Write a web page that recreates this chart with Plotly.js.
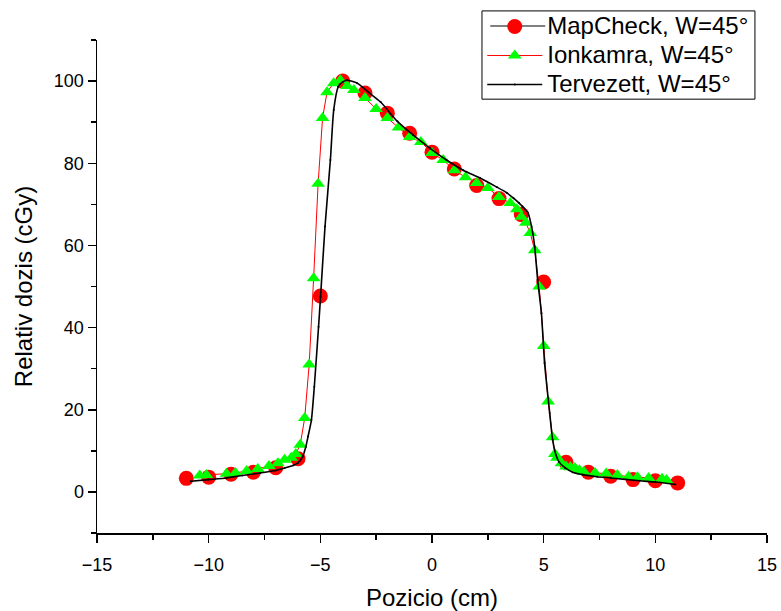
<!DOCTYPE html>
<html>
<head>
<meta charset="utf-8">
<script src="https://cdn.plot.ly/plotly-3.0.1.min.js"></script>
<style>html,body{margin:0;padding:0;background:#fff;}#chart{width:781px;height:611px;}</style>
</head>
<body>
<div id="chart"></div>
<script>
// MapCheck, W=45°
var mapX = [-11, -10, -9, -8, -7, -6, -5, -4, -3, -2, -1, 0, 1, 2, 3, 4, 5, 6, 7, 8, 9, 10, 11];
var mapY = [3.3, 3.6, 4.3, 4.8, 5.9, 8.1, 47.7, 100, 97.1, 92.2, 87.3, 82.7, 78.6, 74.6, 71.4, 67.5, 51.1, 7.2, 4.8, 3.8, 3.0, 2.7, 2.2];

// Ionkamra, W=45°
var ionX = [-10.4, -10.1, -9.2, -8.8, -8.3, -7.8, -7.3, -6.9, -6.6, -6.3, -6.1, -5.9, -5.7, -5.5, -5.3, -5.1, -4.9, -4.7, -4.4, -4.1, -3.8, -3.5, -3.0, -2.5, -2.0, -1.5, -1.0, -0.5, 0, 0.5, 1.0, 1.5, 2.0, 2.5, 3.0, 3.5, 3.8, 4.0, 4.2, 4.4, 4.6, 4.8, 5.0, 5.2, 5.4, 5.5, 5.6, 5.8, 6.0, 6.2, 6.4, 6.6, 6.8, 7.3, 7.8, 8.3, 8.8, 9.2, 9.7, 10.3, 10.5];
var ionY = [4.0, 4.1, 4.4, 4.6, 5.1, 5.6, 6.3, 7.0, 7.8, 8.3, 9.2, 11.5, 18, 31, 52, 75, 91, 97.3, 99.5, 100.2, 98.8, 97.8, 95.9, 93.2, 91, 88.7, 86.4, 85.2, 82.5, 80.8, 78.3, 76.6, 75.2, 74, 71.8, 70.3, 68.8, 67, 65.5, 63, 58.8, 50, 35.5, 22, 13.3, 9.2, 8.3, 7, 6.2, 6.0, 5.8, 5.3, 4.9, 4.6, 4.5, 4.1, 3.7, 3.6, 3.4, 3.2, 2.9];

// Tervezett, W=45°
var tervX = [-10.8, -10, -9.2, -8.5, -7.7, -7.0, -6.6, -6.2, -6.0, -5.8, -5.65, -5.55, -5.4, -5.27, -5.08, -4.99, -4.79, -4.55, -4.4, -4.2, -4.0, -3.8, -3.35, -2.85, -2.3, -1.55, -0.85, -0.1, 0.65, 1.4, 2.15, 2.9, 3.35, 3.65, 3.9, 4.05, 4.3, 4.46, 4.6, 4.73, 4.9, 5.04, 5.27, 5.4, 5.55, 5.7, 5.95, 6.3, 6.75, 7.4, 8.0, 9.3, 10.0, 10.9];
var tervY = [2.6, 3.0, 3.4, 4.0, 4.6, 5.2, 5.8, 6.5, 7.1, 8.5, 11, 13.5, 17.5, 25.6, 40.2, 47.5, 64.6, 80.8, 93, 98.6, 99.8, 100.2, 99.5, 97.3, 94.9, 90.2, 86.9, 83.7, 80.8, 78.3, 76.4, 74.2, 72.8, 71.5, 70.3, 69.5, 67.9, 64.5, 59.6, 51.6, 43.5, 31.4, 19.2, 12.7, 9.0, 7.2, 5.9, 4.8, 4.2, 3.7, 3.4, 2.7, 2.4, 1.8];

var xTitle = 'Pozicio (cm)';
var yTitle = 'Relativ dozis (cGy)';
var names = ['MapCheck, W=45°', 'Ionkamra, W=45°', 'Tervezett, W=45°'];

var FONT = 'Liberation Sans, Arial, sans-serif';
function big(s) { return '<span style="font-size:24px">' + s + '</span>'; }

var traces = [
  {x: mapX, y: mapY, name: big(names[0]), type: 'scatter', mode: 'markers',
   marker: {symbol: 'circle', size: 15, color: '#ff0000'}},
  {x: ionX, y: ionY, name: big(names[1]), type: 'scatter', mode: 'lines+markers',
   line: {color: '#ff0000', width: 1},
   marker: {symbol: 'triangle-up', size: 12, color: '#00ff00'}},
  {x: tervX, y: tervY, name: big(names[2]), type: 'scatter', mode: 'lines+markers',
   line: {color: '#000000', width: 1.6, shape: 'spline', smoothing: 0.6},
   marker: {symbol: 'circle', size: 2, color: '#000000'}}
];

var axisCommon = {
  showline: true, linecolor: '#000', linewidth: 1.5,
  ticks: 'outside', ticklen: 8, tickwidth: 1.5, tickcolor: '#000',
  showgrid: false, zeroline: false, mirror: false,
  tickfont: {family: FONT, size: 18, color: '#000'}
};

var layout = {
  width: 781, height: 611,
  margin: {l: 97, r: 14, t: 40, b: 78, autoexpand: false},
  paper_bgcolor: '#fff', plot_bgcolor: '#fff',
  font: {family: FONT, color: '#000'},
  showlegend: true,
  legend: {
    x: 0.575, y: 1.067, xanchor: 'left', yanchor: 'top',
    bgcolor: 'rgba(0,0,0,0)', borderwidth: 0,
    font: {family: FONT, size: 20, color: '#000'},
    itemwidth: 55, tracegroupgap: 0
  },
  shapes: [
    // legend frame
    {type: 'rect', xref: 'paper', yref: 'paper', layer: 'above',
     x0: 0.5746, x1: 0.982, y0: 0.880, y1: 1.059,
     line: {color: '#000', width: 1}, fillcolor: 'rgba(255,255,255,0)'},
    // black line behind the MapCheck legend symbol
    {type: 'line', xref: 'paper', yref: 'paper', layer: 'above',
     x0: 0.587, x1: 0.669, y0: 1.0284, y1: 1.0284,
     line: {color: '#000', width: 1}}
  ],
  xaxis: Object.assign({}, axisCommon, {
    range: [-15, 15], dtick: 5, tick0: 0, ticklabelstandoff: 7,
    minor: {ticks: 'outside', ticklen: 5, tickwidth: 1.5, tickcolor: '#000', dtick: 2.5, tick0: 0},
    title: {text: xTitle, font: {family: FONT, size: 24, color: '#000'}, standoff: 16}
  }),
  yaxis: Object.assign({}, axisCommon, {
    range: [-10, 110], dtick: 20, tick0: 0,
    minor: {ticks: 'outside', ticklen: 5, tickwidth: 1.5, tickcolor: '#000', dtick: 10, tick0: 0},
    title: {text: yTitle, font: {family: FONT, size: 24, color: '#000'}, standoff: 14}
  })
};

Plotly.newPlot('chart', traces, layout, {displayModeBar: false, staticPlot: true});
</script>
</body>
</html>
